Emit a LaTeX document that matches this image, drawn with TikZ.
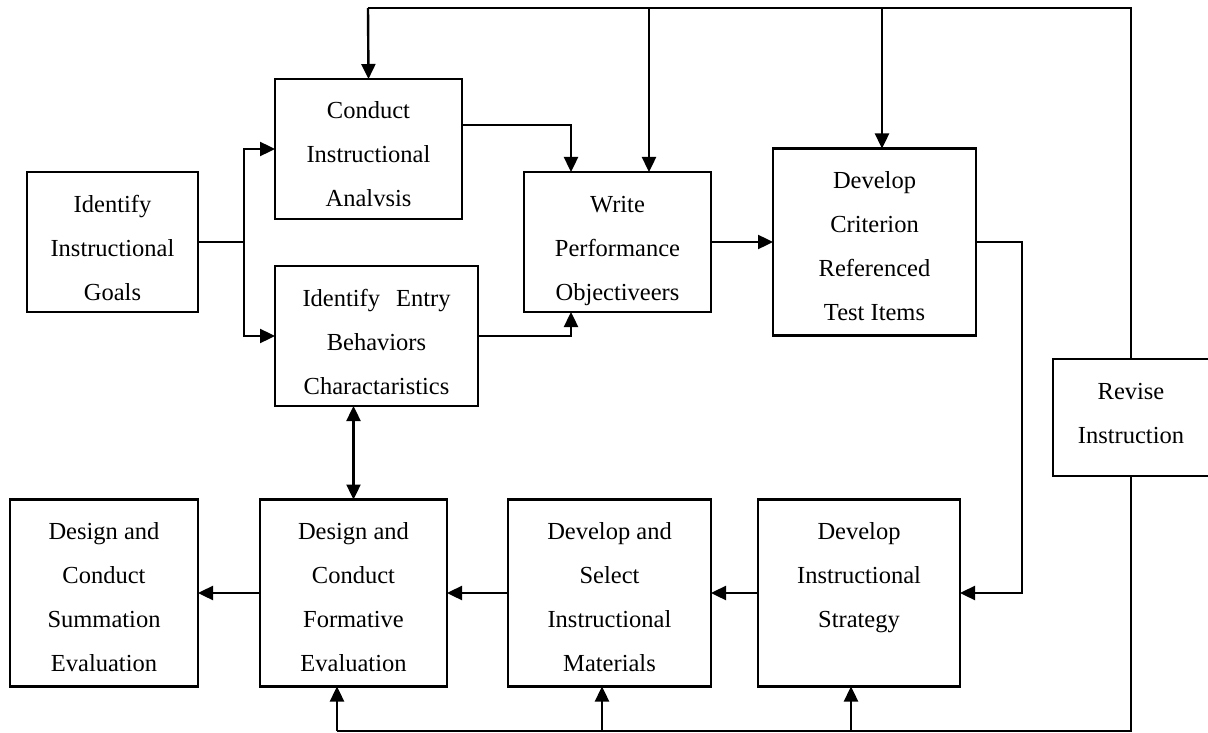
\documentclass[tikz,border=0pt]{standalone}
\usepackage{fontspec}
\setmainfont{Liberation Serif}
\usetikzlibrary{arrows.meta}

% a stage box: name, centre x, centre y, width, height, lines of text
\newcommand{\stage}[6]{%
  \node[stagebox, minimum width=#4pt, minimum height=#5pt] (#1) at (#2,#3)
    {\parbox[c][#5pt][t]{#4pt}{\centering\rule{0pt}{40pt}#6}};}

\tikzset{
  stagebox/.style={draw, line width=2.3pt, inner sep=0pt, outer sep=0pt,
    font=\fontsize{24.5}{44}\selectfont},
  link/.style={line width=2.4pt},
  flow/.style={link, -{Triangle[length=15pt,width=14pt]}},
  twoway/.style={link, {Triangle[length=15pt,width=14pt]}-{Triangle[length=15pt,width=14pt]}}
}

\begin{document}
\begin{tikzpicture}[x=1pt, y=-1pt]
\useasboundingbox (0,0) rectangle (1208,733);

% upper row
\stage{goals}{112.5}{242}{171}{140}{Identify\\Instructional\\Goals}
\stage{conduct}{368.5}{149}{187}{140}{Conduct\\Instructional\\Analvsis}
\stage{entry}{376.5}{336}{203}{140}{Identify\hspace{16pt}Entry\\Behaviors\\Charactaristics}
\stage{write}{617.5}{242}{187}{140}{Write\\Performance\\Objectiveers}
\stage{crit}{874.5}{242}{203}{187}{Develop\\Criterion\\Referenced\\Test Items}
\stage{revise}{1131}{417.5}{156}{117}{Revise\\Instruction}

% lower row
\stage{summ}{104}{593}{188}{187}{Design and\\Conduct\\Summation\\Evaluation}
\stage{form}{353.5}{593}{187}{187}{Design and\\Conduct\\Formative\\Evaluation}
\stage{mat}{609.5}{593}{203}{187}{Develop and\\Select\\Instructional\\Materials}
\stage{strat}{859}{593}{202}{187}{Develop\\Instructional\\Strategy}

% branch points
\coordinate (split) at (244,242);
\coordinate (topright) at (1131,8);
\coordinate (botright) at (1131,731);

% goals feed analysis and entry behaviours
\draw[link] (goals.east) -- (split);
\draw[flow] (split) |- (conduct.west);
\draw[flow] (split) |- (entry.west);

% into the objectives
\draw[flow] (conduct.east |- 0,125) -| (write.north -| 571,0);
\draw[flow] (entry.east) -| (write.south -| 571,0);
\draw[flow] (write.east) -- (crit.west);
\draw[flow] (crit.east) -- (1022,242) |- (strat.east);

% lower chain
\draw[flow] (strat.west) -- (mat.east);
\draw[flow] (mat.west) -- (form.east);
\draw[flow] (form.west) -- (summ.east);
\draw[twoway] (form.north |- entry.south) -- (form.north);

% revision loop over the top
\draw[link] (revise.north) -- (topright) -- (368,8);
\draw[flow] (368,8) -- (conduct.north);
\draw[flow] (649,8) -- (write.north -| 649,0);
\draw[flow] (882,8) -- (crit.north -| 882,0);

% revision loop along the bottom
\draw[link] (revise.south) -- (botright) -- (337,731);
\draw[flow] (337,731) -- (form.south -| 337,0);
\draw[flow] (602,731) -- (mat.south -| 602,0);
\draw[flow] (851,731) -- (strat.south -| 851,0);
\end{tikzpicture}
\end{document}
